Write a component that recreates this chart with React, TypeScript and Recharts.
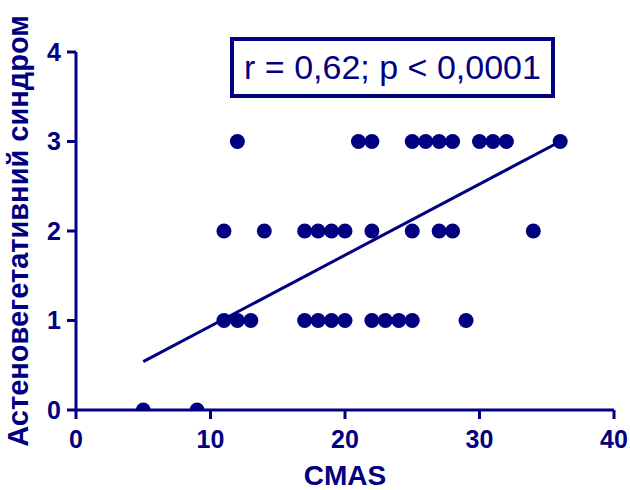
import React from "react";
import { ComposedChart, Scatter, Line, XAxis, YAxis } from "recharts";

const NAVY = "#000080";

const row3X = [12, 21, 22, 25, 26, 27, 28, 30, 31, 32, 36];
const row2X = [11, 14, 17, 18, 19, 20, 22, 25, 27, 28, 34];
const row1X = [11, 12, 13, 17, 18, 19, 20, 22, 23, 24, 25, 29];
const row0X = [5, 9];

const xTicks = [0, 10, 20, 30, 40];
const yTicks = [0, 1, 2, 3, 4];

const fitX = [5, 36];
const fitY = [0.54, 3.0];

const points = [
  ...row3X.map((x) => ({ x, y: 3 })),
  ...row2X.map((x) => ({ x, y: 2 })),
  ...row1X.map((x) => ({ x, y: 1 })),
  ...row0X.map((x) => ({ x, y: 0 })),
];
const fitLine = fitX.map((x, i) => ({ x, y: fitY[i] }));

const FONT = "'Liberation Sans', Arial, sans-serif";

const Dot = (props: any) => {
  const { cx, cy } = props;
  return <circle cx={cx} cy={cy} r={7.5} fill={NAVY} />;
};

export default function App() {
  return (
    <div style={{ position: "absolute", left: 0, top: 0, width: 630, height: 490, background: "#fff" }}>
      <ComposedChart
        width={630}
        height={490}
        margin={{ top: 52, right: 16, bottom: 0, left: 0 }}
      >
        <XAxis
          type="number"
          dataKey="x"
          domain={[0, 40]}
          ticks={xTicks}
          allowDataOverflow
          stroke={NAVY}
          strokeWidth={3}
          tickSize={9}
          height={80}
          tick={{ fill: NAVY, fontSize: 25, fontWeight: "bold", fontFamily: FONT, dy: 9 }}
          tickLine={{ stroke: NAVY, strokeWidth: 3 }}
          label={{
            value: "CMAS",
            position: "insideBottom",
            offset: 5,
            fill: NAVY,
            fontSize: 28,
            fontWeight: "bold",
            fontFamily: FONT,
          }}
        />
        <YAxis
          type="number"
          dataKey="y"
          domain={[0, 4]}
          ticks={yTicks}
          allowDataOverflow
          width={76}
          stroke={NAVY}
          strokeWidth={3}
          tickSize={9}
          tick={{ fill: NAVY, fontSize: 25, fontWeight: "bold", fontFamily: FONT, dx: -4 }}
          tickLine={{ stroke: NAVY, strokeWidth: 3 }}
          label={{
            value: "Астеновегетативний синдром",
            angle: -90,
            position: "insideLeft",
            offset: 18,
            fill: NAVY,
            fontSize: 29,
            fontWeight: "bold",
            fontFamily: FONT,
            style: { textAnchor: "middle" },
          }}
        />
        <Line
          data={fitLine}
          dataKey="y"
          type="linear"
          stroke={NAVY}
          strokeWidth={3}
          dot={false}
          activeDot={false}
          isAnimationActive={false}
        />
        <Scatter data={points} dataKey="y" fill={NAVY} shape={Dot} isAnimationActive={false} />
      </ComposedChart>
      <div
        style={{
          position: "absolute",
          left: 230,
          top: 37,
          width: 325,
          height: 61,
          boxSizing: "border-box",
          border: `4px solid ${NAVY}`,
          color: NAVY,
          fontFamily: FONT,
          fontSize: 34,
          lineHeight: "53px",
          textAlign: "center",
          whiteSpace: "nowrap",
        }}
      >
        r = 0,62; p &lt; 0,0001
      </div>
    </div>
  );
}
